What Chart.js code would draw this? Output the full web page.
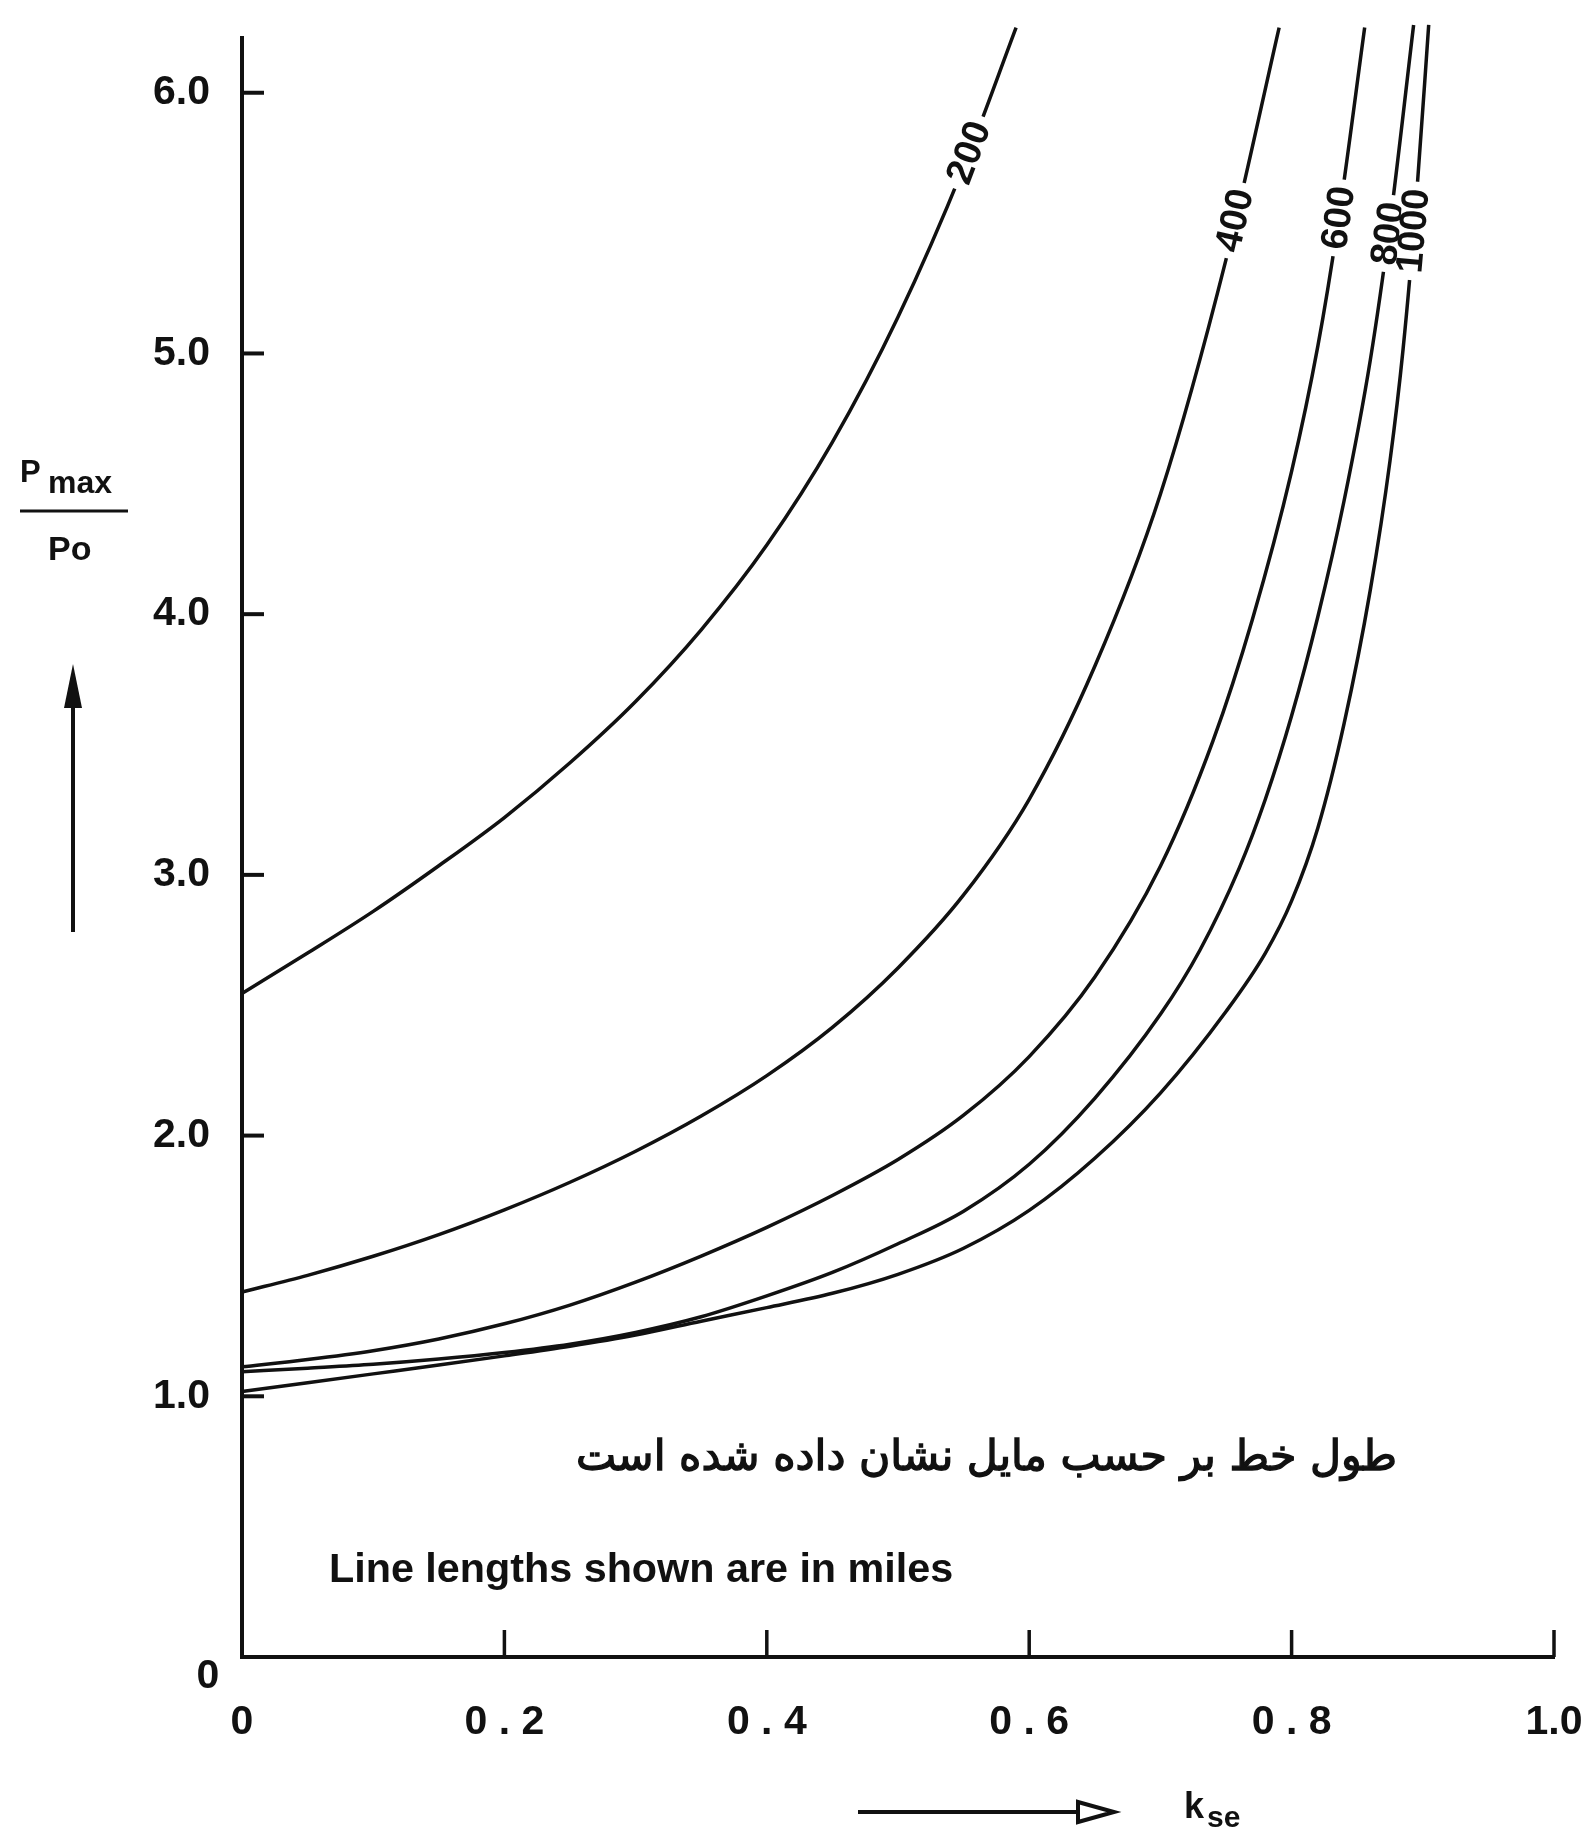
<!DOCTYPE html>
<html>
<head>
<meta charset="utf-8">
<title>Pmax/Po vs kse</title>
<script src="https://cdn.jsdelivr.net/npm/chart.js@4.4.1/dist/chart.umd.min.js"></script>
<style>
    html, body { margin: 0; padding: 0; background: #ffffff; }
    #wrap { width: 1586px; height: 1830px; }
</style>
</head>
<body>
<div id="wrap"><canvas id="chart" width="1586" height="1830"></canvas></div>
<script>
// Curvas Pmax/Po x kse (comprimento da linha em milhas)
const k200 = [0, 0.05, 0.10, 0.15, 0.20, 0.25, 0.30, 0.35, 0.40, 0.45, 0.50, 0.55, 0.59];
const p200 = [2.545, 2.70, 2.86, 3.035, 3.22, 3.43, 3.665, 3.94, 4.265, 4.66, 5.14, 5.715, 6.25];

const k400 = [0, 0.05, 0.10, 0.15, 0.20, 0.25, 0.30, 0.35, 0.40, 0.45, 0.50, 0.55, 0.60, 0.65, 0.70, 0.75, 0.7905];
const p400 = [1.40, 1.464, 1.537, 1.62, 1.715, 1.821, 1.94, 2.075, 2.23, 2.415, 2.643, 2.923, 3.29, 3.80, 4.46, 5.36, 6.25];

const k600 = [0, 0.05, 0.10, 0.15, 0.20, 0.25, 0.30, 0.35, 0.40, 0.45, 0.50, 0.55, 0.60, 0.65, 0.70, 0.74, 0.77, 0.80, 0.82, 0.835, 0.8557];
const p600 = [1.113, 1.141, 1.175, 1.22, 1.278, 1.35, 1.438, 1.538, 1.648, 1.77, 1.908, 2.078, 2.303, 2.608, 3.033, 3.513, 3.978, 4.548, 5.028, 5.486, 6.25];

const k800 = [0, 0.05, 0.10, 0.15, 0.20, 0.25, 0.30, 0.35, 0.40, 0.45, 0.50, 0.55, 0.60, 0.65, 0.70, 0.73, 0.76, 0.78, 0.80, 0.82, 0.84, 0.86, 0.875, 0.893];
const p800 = [1.094, 1.108, 1.123, 1.143, 1.168, 1.20, 1.245, 1.305, 1.385, 1.475, 1.585, 1.71, 1.89, 2.143, 2.465, 2.710, 3.025, 3.290, 3.610, 3.990, 4.435, 4.975, 5.500, 6.26];

const k1000 = [0, 0.05, 0.10, 0.15, 0.20, 0.25, 0.30, 0.35, 0.40, 0.45, 0.50, 0.55, 0.60, 0.65, 0.70, 0.75, 0.78, 0.80, 0.82, 0.84, 0.86, 0.875, 0.885, 0.895, 0.9045];
const p1000 = [1.018, 1.052, 1.086, 1.12, 1.155, 1.192, 1.235, 1.288, 1.34, 1.395, 1.468, 1.568, 1.713, 1.913, 2.163, 2.476, 2.70, 2.90, 3.18, 3.58, 4.093, 4.588, 5.018, 5.588, 6.26];

// labels written on the curves and the ratio at which each one sits
const curveLabels = ['200', '400', '600', '800', '1000'];
const curveLabelAt = [5.77, 5.51, 5.52, 5.46, 5.47];

// axes
const xTickValues = [0, 0.2, 0.4, 0.6, 0.8, 1.0];
const xTickLabels = ['0', '0 . 2', '0 . 4', '0 . 6', '0 . 8', '1.0'];
const yTickValues = [0, 1, 2, 3, 4, 5, 6];
const yTickLabels = ['0', '1.0', '2.0', '3.0', '4.0', '5.0', '6.0'];

const noteFa = 'طول خط بر حسب مایل نشان داده شده است';
const noteEn = 'Line lengths shown are in miles';

const INK = '#111111';
const FONT = '"Liberation Sans", Arial, Helvetica, sans-serif';
const FONT_FA = '"DejaVu Sans", sans-serif';

const curves = [
    { k: k200, p: p200 },
    { k: k400, p: p400 },
    { k: k600, p: p600 },
    { k: k800, p: p800 },
    { k: k1000, p: p1000 }
];

function tickText(values, labels, v) {
    const i = values.findIndex(t => Math.abs(t - v) < 1e-6);
    return i >= 0 ? labels[i] : '';
}

/**
 * Procura o trecho da curva que contém a razão p
 */
function locateOnCurve(c, p) {
    for (let i = 0; i < c.p.length - 1; i++) {
        if (p >= c.p[i] && p <= c.p[i + 1]) {
            const t = (p - c.p[i]) / (c.p[i + 1] - c.p[i]);
            return { k: c.k[i] + t * (c.k[i + 1] - c.k[i]), i };
        }
    }
    return null;
}

// text that must fit a given width (scan lettering is wider than our fonts)
function fitFont(ctx, text, weight, family, width) {
    ctx.font = weight + ' 40px ' + family;
    const w = ctx.measureText(text).width;
    return weight + ' ' + (40 * width / w).toFixed(1) + 'px ' + family;
}

const curveLabelPlugin = {
    id: 'curveLabels',
    afterDatasetsDraw(chart) {
        const { ctx, scales: { x, y } } = chart;
        curves.forEach((c, n) => {
            const pos = locateOnCurve(c, curveLabelAt[n]);
            if (!pos) return;
            const px = x.getPixelForValue(pos.k);
            const py = y.getPixelForValue(curveLabelAt[n]);
            const ax = x.getPixelForValue(c.k[pos.i]), ay = y.getPixelForValue(c.p[pos.i]);
            const bx = x.getPixelForValue(c.k[pos.i + 1]), by = y.getPixelForValue(c.p[pos.i + 1]);
            const angle = Math.atan2(by - ay, bx - ax);

            ctx.save();
            ctx.translate(px, py);
            ctx.rotate(angle);
            ctx.font = 'bold 38px ' + FONT;
            const w = ctx.measureText(curveLabels[n]).width;
            ctx.fillStyle = '#ffffff';
            ctx.fillRect(-w / 2 - 7, -14, w + 14, 28);
            ctx.fillStyle = INK;
            ctx.textAlign = 'center';
            ctx.textBaseline = 'middle';
            ctx.fillText(curveLabels[n], 0, 1);
            ctx.restore();
        });
    }
};

const decorPlugin = {
    id: 'decor',
    afterDraw(chart) {
        const { ctx, scales: { x, y } } = chart;
        ctx.save();
        ctx.strokeStyle = INK;
        ctx.fillStyle = INK;
        ctx.lineCap = 'butt';

        // tick marks point into the plot
        ctx.lineWidth = 4;
        y.ticks.forEach(t => {
            if (t.value === 0) return;
            const py = y.getPixelForValue(t.value);
            ctx.beginPath();
            ctx.moveTo(x.left, py);
            ctx.lineTo(x.left + 22, py);
            ctx.stroke();
        });
        ctx.lineWidth = 3.5;
        x.ticks.forEach(t => {
            if (t.value === 0) return;
            const px = x.getPixelForValue(t.value);
            ctx.beginPath();
            ctx.moveTo(px, y.bottom);
            ctx.lineTo(px, y.bottom - 27);
            ctx.stroke();
        });

        // the y zero sits below-left of the corner
        ctx.font = 'bold 41px ' + FONT;
        ctx.textAlign = 'center';
        ctx.textBaseline = 'middle';
        ctx.fillText(yTickLabels[0], x.left - 34, y.getPixelForValue(0) + 20);

        // y title: Pmax / Po with an upward arrow
        ctx.textAlign = 'left';
        ctx.textBaseline = 'alphabetic';
        ctx.font = 'bold 31px ' + FONT;
        ctx.fillText('P', 20, 482);
        ctx.font = 'bold 32px ' + FONT;
        ctx.fillText('max', 48, 493);
        ctx.font = 'bold 34px ' + FONT;
        ctx.fillText('Po', 48, 560);
        ctx.lineWidth = 3;
        ctx.beginPath();
        ctx.moveTo(20, 511);
        ctx.lineTo(128, 511);
        ctx.stroke();

        ctx.lineWidth = 4;
        ctx.beginPath();
        ctx.moveTo(73, 932);
        ctx.lineTo(73, 700);
        ctx.stroke();
        ctx.beginPath();
        ctx.moveTo(73, 664);
        ctx.lineTo(64, 708);
        ctx.lineTo(82, 708);
        ctx.closePath();
        ctx.fill();

        // x title: arrow and kse
        ctx.beginPath();
        ctx.moveTo(858, 1812);
        ctx.lineTo(1078, 1812);
        ctx.stroke();
        ctx.beginPath();
        ctx.moveTo(1078, 1802);
        ctx.lineTo(1114, 1812);
        ctx.lineTo(1078, 1822);
        ctx.closePath();
        ctx.stroke();
        ctx.font = 'bold 36px ' + FONT;
        ctx.fillText('k', 1184, 1818);
        ctx.font = 'bold 30px ' + FONT;
        ctx.fillText('se', 1207, 1827);

        // notes
        ctx.font = fitFont(ctx, noteFa, 'normal', FONT_FA, 822);
        ctx.textAlign = 'right';
        ctx.lineWidth = 1.4;
        ctx.fillText(noteFa, 1397, 1470);
        ctx.strokeText(noteFa, 1397, 1470);
        ctx.font = fitFont(ctx, noteEn, 'bold', FONT, 624);
        ctx.textAlign = 'left';
        ctx.fillText(noteEn, 329, 1582);
        ctx.restore();
    }
};

Chart.defaults.font.family = FONT;
Chart.defaults.color = INK;

const chart = new Chart(document.getElementById('chart'), {
    type: 'line',
    data: {
        datasets: curves.map((c, n) => ({
            label: curveLabels[n],
            data: c.k.map((k, i) => ({ x: k, y: c.p[i] })),
            borderColor: INK,
            borderWidth: 3.5,
            pointRadius: 0,
            fill: false,
            cubicInterpolationMode: 'monotone',
            clip: false
        }))
    },
    options: {
        responsive: false,
        animation: false,
        devicePixelRatio: 1,
        layout: { padding: { top: 38, right: 32, bottom: 0, left: 0 } },
        plugins: {
            legend: { display: false },
            tooltip: { enabled: false }
        },
        scales: {
            x: {
                type: 'linear',
                min: 0,
                max: 1,
                // fixed band for the labels, and no extra room for the last label
                afterFit: s => { s.height = 173; s.paddingLeft = 0; s.paddingRight = 0; },
                grid: { display: false, drawTicks: false },
                border: { display: true, color: INK, width: 4 },
                ticks: {
                    stepSize: 0.2,
                    includeBounds: false,
                    autoSkip: false,
                    maxRotation: 0,
                    padding: 41,
                    color: INK,
                    font: { size: 41, weight: 'bold' },
                    callback: v => tickText(xTickValues, xTickLabels, v)
                }
            },
            y: {
                type: 'linear',
                min: 0,
                max: 6.21,
                afterFit: s => { s.width = 242; s.paddingTop = 0; s.paddingBottom = 0; },
                grid: { display: false, drawTicks: false },
                border: { display: true, color: INK, width: 4 },
                ticks: {
                    stepSize: 1,
                    includeBounds: false,
                    padding: 32,
                    color: INK,
                    font: { size: 41, weight: 'bold' },
                    callback: v => (v === 0 ? '' : tickText(yTickValues, yTickLabels, v))
                }
            }
        }
    },
    plugins: [curveLabelPlugin, decorPlugin]
});
</script>
</body>
</html>
